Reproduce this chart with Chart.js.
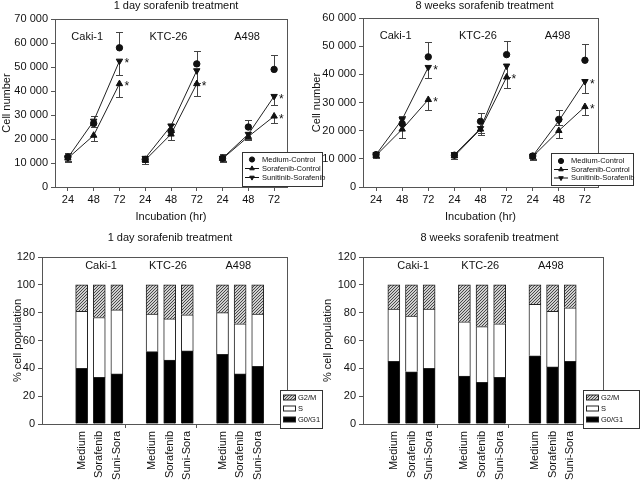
<!DOCTYPE html>
<html>
<head>
<meta charset="utf-8">
<script src="https://cdn.jsdelivr.net/npm/chart.js@4.4.1/dist/chart.umd.min.js"></script>
<style>
  body { margin: 0; background: #fff; }
  #wrap { position: relative; width: 640px; height: 483px; overflow: hidden; }
  canvas { position: absolute; }
</style>
</head>
<body>
<div id="wrap">
  <canvas id="growthDay1" width="330" height="228" style="left:0;top:0"></canvas>
  <canvas id="growthWeek8" width="330" height="228" style="left:310px;top:0"></canvas>
  <canvas id="cycleDay1" width="330" height="255" style="left:0;top:228px"></canvas>
  <canvas id="cycleWeek8" width="330" height="255" style="left:310px;top:228px"></canvas>
</div>
<script>
// ---- data ----
const hours = ['24', '48', '72', '24', '48', '72', '24', '48', '72'];
const cellLines = ['Caki-1', 'KTC-26', 'A498'];
const seriesNames = ['Medium-Control', 'Sorafenib-Control', 'Sunitinib-Sorafenib'];

// cell number, 1 day sorafenib (Caki-1, KTC-26, A498 x 24/48/72 h)
const day1Medium = [12500, 26500, 58000, 11500, 23300, 51300, 12000, 25000, 49000];
const day1MediumErr = [1500, 3000, 6500, 1500, 3000, 5500, 1800, 3000, 5800];
const day1Sora = [12000, 21500, 43000, 11200, 22000, 43000, 11800, 21000, 29500];
const day1SoraErr = [1500, 2500, 5500, 1500, 2500, 5000, 1300, 1500, 2800];
const day1Suni = [12200, 27500, 52500, 12000, 25500, 48500, 12000, 22000, 37800];
const day1SuniErr = [1500, 2500, 5800, 1500, 2500, 5000, 1300, 2000, 3800];

// cell number, 8 weeks sorafenib
const wk8Medium = [11500, 22500, 46200, 11300, 23300, 47000, 11000, 24000, 45000];
const wk8MediumErr = [800, 2800, 5300, 1000, 3000, 5000, 1200, 3300, 5700];
const wk8Sora = [11200, 20500, 31000, 11000, 20500, 39000, 10800, 20000, 28500];
const wk8SoraErr = [800, 3000, 3500, 1000, 2200, 4000, 1200, 2500, 3000];
const wk8Suni = [11500, 24000, 42500, 11500, 20800, 43000, 11000, 23500, 37500];
const wk8SuniErr = [800, 1500, 3700, 1000, 1500, 4000, 1000, 1500, 4000];

// significance stars: [series, point]
const starPoints = [[1, 2], [1, 5], [1, 8], [2, 2], [2, 8]];

// cell cycle, % population
const treatments = ['Medium', 'Sorafenib', 'Suni-Sora'];
const phaseNames = ['G0/G1', 'S', 'G2/M'];
const day1G0G1 = [40, 33.5, 36, 52, 46, 52.5, 50, 36, 41.5];
const day1S = [41, 43, 46, 27, 29.5, 26, 30, 36, 37.5];
const day1G2M = [19, 23.5, 18, 21, 24.5, 21.5, 20, 28, 21];
const wk8G0G1 = [45, 37.5, 40, 34.5, 30, 33.5, 49, 41, 45];
const wk8S = [37.5, 40, 42.5, 39, 40, 38.5, 37, 40, 38.5];
const wk8G2M = [17.5, 22.5, 17.5, 26.5, 30, 28, 14, 19, 16.5];

// ---- helpers ----
const FONT = 'Liberation Sans, Arial, sans-serif';
const INK = '#111';
const AXIS = '#555';
Chart.defaults.font.family = FONT;
Chart.defaults.color = INK;

function thousands(v) {
  return String(v).replace(/\B(?=(\d{3})+(?!\d))/g, ' ');
}

function hatchPattern() {
  const c = document.createElement('canvas');
  c.width = 3; c.height = 3;
  const g = c.getContext('2d');
  g.fillStyle = '#cfcfcf';
  g.fillRect(0, 0, 3, 3);
  g.strokeStyle = '#3a3a3a';
  g.lineWidth = 0.9;
  g.beginPath();
  g.moveTo(0, 3); g.lineTo(3, 0);
  g.moveTo(-1, 1); g.lineTo(1, -1);
  g.moveTo(2, 4); g.lineTo(4, 2);
  g.stroke();
  return g.createPattern(c, 'repeat');
}

const frame = {
  id: 'frame',
  afterDatasetsDraw(chart) {
    const a = chart.chartArea, ctx = chart.ctx;
    ctx.save();
    ctx.strokeStyle = AXIS;
    ctx.lineWidth = 1;
    ctx.strokeRect(Math.round(a.left) + 0.5, Math.round(a.top) + 0.5,
      Math.round(a.right - a.left), Math.round(a.bottom - a.top));
    ctx.restore();
  }
};

const errorBars = {
  id: 'errorBars',
  beforeDatasetsDraw(chart) {
    const ctx = chart.ctx, y = chart.scales.y;
    ctx.save();
    ctx.strokeStyle = '#444';
    ctx.lineWidth = 1;
    chart.data.datasets.forEach((ds, i) => {
      if (!ds.err) return;
      chart.getDatasetMeta(i).data.forEach((pt, j) => {
        const v = ds.data[j], e = ds.err[j];
        const end = y.getPixelForValue(ds.errDir === 'up' ? v + e : v - e);
        const x = Math.round(pt.x) + 0.5, ye = Math.round(end) + 0.5;
        ctx.beginPath();
        ctx.moveTo(x, pt.y);
        ctx.lineTo(x, ye);
        ctx.moveTo(x - 3.5, ye);
        ctx.lineTo(x + 3.5, ye);
        ctx.stroke();
      });
    });
    ctx.restore();
  }
};

const annotations = {
  id: 'annotations',
  afterDraw(chart, args, opts) {
    const ctx = chart.ctx, a = chart.chartArea, x = chart.scales.x;
    ctx.save();
    ctx.fillStyle = INK;
    // panel title
    ctx.font = '11px ' + FONT;
    ctx.textAlign = 'center';
    ctx.textBaseline = 'middle';
    ctx.fillText(opts.title, opts.titleX, opts.titleY);
    // cell line names over each group
    opts.groupAt.forEach((v, k) => {
      ctx.fillText(cellLines[k], x.getPixelForValue(v), a.top + opts.groupDy);
    });
    // stars
    ctx.font = '12px ' + FONT;
    ctx.textAlign = 'left';
    (opts.stars || []).forEach(([di, pi]) => {
      const pt = chart.getDatasetMeta(di).data[pi];
      ctx.fillText('*', pt.x + 5, pt.y + 3);
    });
    // legend box
    const L = opts.legend;
    ctx.fillStyle = '#fff';
    ctx.fillRect(L.x, L.y, L.w, L.h);
    ctx.strokeStyle = '#333';
    ctx.lineWidth = 1;
    ctx.strokeRect(L.x + 0.5, L.y + 0.5, L.w, L.h);
    ctx.font = '7.5px ' + FONT;
    ctx.textBaseline = 'middle';
    const order = L.reverse ? chart.data.datasets.map((d, i) => i).reverse() : chart.data.datasets.map((d, i) => i);
    order.forEach((di, row) => {
      const ds = chart.data.datasets[di];
      const ry = L.y + L.rows[row];
      if (chart.config.type === 'bar') {
        ctx.fillStyle = ds.backgroundColor;
        ctx.fillRect(L.x + 3, ry - 2.5, 12, 5);
        ctx.strokeStyle = '#222';
        ctx.strokeRect(L.x + 3.5, ry - 2.5, 12, 5);
        ctx.fillStyle = INK;
        ctx.fillText(ds.label, L.x + 18, ry);
      } else {
        const cx = L.x + 10;
        ctx.strokeStyle = INK;
        ctx.fillStyle = INK;
        if (ds.showLine !== false) {
          ctx.beginPath();
          ctx.moveTo(L.x + 3, ry);
          ctx.lineTo(L.x + 17, ry);
          ctx.stroke();
        }
        Chart.helpers.drawPoint(ctx, {
          pointStyle: ds.pointStyle, rotation: ds.pointRotation || 0,
          radius: 2.6, borderWidth: 1
        }, cx, ry);
        ctx.fillStyle = INK;
        ctx.fillText(ds.label, L.x + 20, ry);
      }
    });
    ctx.restore();
  }
};

function growthChart(id, data, yMax, box, ann) {
  const gap = c => (c.p0DataIndex % 3 === 2 ? 'rgba(0,0,0,0)' : '#222');
  const base = {
    borderColor: '#222', backgroundColor: INK, borderWidth: 1,
    pointBorderColor: INK, pointBackgroundColor: INK, pointBorderWidth: 1
  };
  return new Chart(document.getElementById(id), {
    type: 'line',
    data: {
      labels: hours,
      datasets: [
        Object.assign({}, base, { label: seriesNames[0], data: data[0], err: data[1], errDir: 'up',
          showLine: false, pointStyle: 'circle', pointRadius: 3.2 }),
        Object.assign({}, base, { label: seriesNames[1], data: data[2], err: data[3], errDir: 'down',
          pointStyle: 'triangle', pointRadius: 3.7, segment: { borderColor: gap } }),
        Object.assign({}, base, { label: seriesNames[2], data: data[4], err: data[5], errDir: 'down',
          pointStyle: 'triangle', pointRotation: 180, pointRadius: 3.7, segment: { borderColor: gap } })
      ]
    },
    options: {
      responsive: false,
      animation: false,
      layout: { padding: { top: box.top, right: box.right, bottom: 0, left: 0 } },
      plugins: { legend: { display: false }, tooltip: { enabled: false }, annotations: ann },
      scales: {
        x: {
          type: 'category', offset: true,
          grid: { drawOnChartArea: false, offset: false, tickLength: 4, tickColor: AXIS },
          border: { color: AXIS },
          ticks: { font: { size: 11 }, color: INK, padding: 2, maxRotation: 0, autoSkip: false },
          title: { display: true, text: 'Incubation (hr)', font: { size: 11 }, color: INK, padding: { top: 0, bottom: 4.5 } },
          afterFit(s) { s.height = box.xh; }
        },
        y: {
          min: 0, max: yMax,
          grid: { drawOnChartArea: false, tickLength: 4, tickColor: AXIS },
          border: { color: AXIS },
          ticks: { stepSize: 10000, font: { size: 11 }, color: INK, padding: 3, callback: v => thousands(v) },
          title: { display: true, text: 'Cell number', font: { size: 11 }, color: INK, padding: { top: 0, bottom: 0 } },
          afterFit(s) { s.width = box.yw; }
        }
      }
    },
    plugins: [frame, errorBars, annotations]
  });
}

function cycleChart(id, phases, box, ann) {
  const slot = i => Math.floor(i / 3) * 4 + (i % 3);
  const pts = arr => arr.map((v, i) => ({ x: slot(i), y: v }));
  const fills = ['#000', '#fff', hatchPattern()];
  return new Chart(document.getElementById(id), {
    type: 'bar',
    data: {
      datasets: phases.map((arr, k) => ({
        label: phaseNames[k], data: pts(arr), backgroundColor: fills[k],
        borderColor: '#222', borderWidth: 1, barThickness: 12
      }))
    },
    options: {
      responsive: false,
      animation: false,
      layout: { padding: { top: box.top, right: box.right, bottom: 0, left: 0 } },
      plugins: { legend: { display: false }, tooltip: { enabled: false }, annotations: ann },
      scales: {
        x: {
          type: 'linear', stacked: true, min: box.xmin, max: box.xmax,
          afterBuildTicks(s) { s.ticks = [0, 1, 2, 3, 4, 5, 6, 7, 8, 9, 10].map(v => ({ value: v })); },
          grid: {
            drawOnChartArea: false, tickLength: 4,
            tickColor: c => (c.tick && c.tick.value % 4 === 3 ? AXIS : 'rgba(0,0,0,0)')
          },
          border: { color: AXIS },
          ticks: {
            font: { size: 11 }, color: INK, padding: 3, minRotation: 90, maxRotation: 90, autoSkip: false,
            callback: v => (v % 4 === 3 ? '' : treatments[v % 4])
          },
          afterFit(s) { s.height = box.xh; }
        },
        y: {
          stacked: true, min: 0, max: 120,
          grid: { drawOnChartArea: false, tickLength: 4, tickColor: AXIS },
          border: { color: AXIS },
          ticks: { stepSize: 20, font: { size: 11 }, color: INK, padding: 3 },
          title: { display: true, text: '% cell population', font: { size: 11 }, color: INK, padding: { top: 11, bottom: 0 } },
          afterFit(s) { s.width = box.yw; }
        }
      }
    },
    plugins: [frame, annotations]
  });
}

growthChart('growthDay1',
  [day1Medium, day1MediumErr, day1Sora, day1SoraErr, day1Suni, day1SuniErr],
  70000, { top: 19, right: 43, xh: 41, yw: 55 },
  { title: '1 day sorafenib treatment', titleX: 176, titleY: 6, groupAt: [0.75, 3.9, 6.95], groupDy: 18, stars: starPoints,
    legend: { x: 242, y: 152, w: 80, h: 34, rows: [7.5, 16.5, 25.5] } });

growthChart('growthWeek8',
  [wk8Medium, wk8MediumErr, wk8Sora, wk8SoraErr, wk8Suni, wk8SuniErr],
  60000, { top: 18, right: 42, xh: 41, yw: 53 },
  { title: '8 weeks sorafenib treatment', titleX: 174.5, titleY: 6, groupAt: [0.75, 3.9, 6.95], groupDy: 18, stars: starPoints,
    legend: { x: 241, y: 153, w: 82, h: 32, rows: [8, 16.5, 25] } });

cycleChart('cycleDay1', [day1G0G1, day1S, day1G2M],
  { top: 29, right: 43, xh: 59, yw: 42, xmin: -1.62, xmax: 11.03 },
  { title: '1 day sorafenib treatment', titleX: 170, titleY: 10, groupAt: [1.1, 4.9, 8.9], groupDy: 8.5,
    legend: { x: 280, y: 162, w: 42, h: 38, rows: [7.5, 18.5, 29.5], reverse: true } });

cycleChart('cycleWeek8', [wk8G0G1, wk8S, wk8G2M],
  { top: 29, right: 37, xh: 59, yw: 53, xmin: -1.13, xmax: 11.24 },
  { title: '8 weeks sorafenib treatment', titleX: 179.5, titleY: 10, groupAt: [1.1, 4.9, 8.9], groupDy: 8.5,
    legend: { x: 273, y: 162, w: 56, h: 38, rows: [7.5, 18.5, 29.5], reverse: true } });
</script>
</body>
</html>
